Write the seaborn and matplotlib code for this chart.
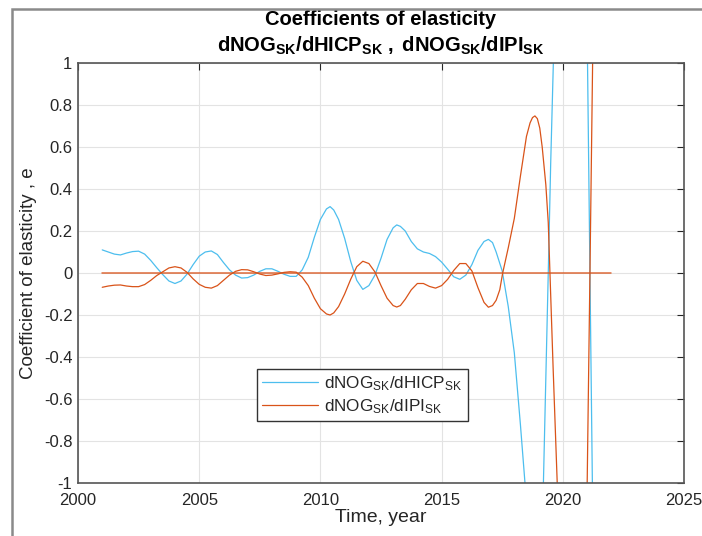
import numpy as np
import pandas as pd
import seaborn as sns
import matplotlib.pyplot as plt
from matplotlib.patches import Rectangle

# dNOG/dHICP (light blue)
years_hicp = [2001.0, 2001.25, 2001.5, 2001.75, 2002.0, 2002.25, 2002.5, 2002.75,
              2003.0, 2003.25, 2003.5, 2003.75, 2004.0, 2004.25, 2004.5, 2004.75,
              2005.0, 2005.25, 2005.5, 2005.75, 2006.0, 2006.25, 2006.5, 2006.75,
              2007.0, 2007.25, 2007.5, 2007.75, 2008.0, 2008.25, 2008.5, 2008.75,
              2009.0, 2009.25, 2009.5, 2009.75, 2010.0, 2010.25, 2010.4, 2010.55, 2010.75,
              2011.0, 2011.25, 2011.5, 2011.75, 2012.0, 2012.25, 2012.5, 2012.75,
              2013.0, 2013.15, 2013.3, 2013.5, 2013.75, 2014.0, 2014.25, 2014.5, 2014.75,
              2015.0, 2015.25, 2015.5, 2015.75, 2016.0, 2016.25, 2016.5, 2016.75,
              2016.93, 2017.1, 2017.25, 2017.5, 2017.75, 2018.0, 2018.25, 2018.44, 2018.6,
              2018.8, 2019.0, 2019.2, 2019.3, 2019.4, 2019.5, 2019.61, 2019.8,
              2020.0, 2020.5, 2020.9, 2021.02, 2021.12, 2021.22, 2021.4]
e_hicp = [0.110, 0.100, 0.090, 0.086, 0.095, 0.102, 0.104, 0.090,
          0.060, 0.025, -0.008, -0.038, -0.050, -0.038, -0.005, 0.040,
          0.080, 0.100, 0.105, 0.088, 0.050, 0.015, -0.010, -0.024,
          -0.022, -0.010, 0.008, 0.020, 0.020, 0.008, -0.006, -0.016,
          -0.016, 0.015, 0.075, 0.170, 0.255, 0.305, 0.316, 0.300, 0.255,
          0.165, 0.055, -0.035, -0.078, -0.060, -0.010, 0.070, 0.160,
          0.215, 0.229, 0.222, 0.200, 0.150, 0.115, 0.100, 0.093, 0.078,
          0.052, 0.018, -0.018, -0.030, -0.010, 0.040, 0.108, 0.150,
          0.160, 0.145, 0.100, 0.010, -0.160, -0.380, -0.720, -1.000, -1.300,
          -1.500, -1.450, -1.000, -0.500, 0.000, 0.520, 1.000, 1.800,
          2.500, 2.800, 1.600, 1.000, 0.000, -1.000, -2.500]

# dNOG/dIPI (orange)
years_ipi = [2001.0, 2001.25, 2001.5, 2001.75, 2002.0, 2002.25, 2002.5, 2002.75,
             2003.0, 2003.25, 2003.5, 2003.75, 2004.0, 2004.25, 2004.5, 2004.75,
             2005.0, 2005.25, 2005.5, 2005.75, 2006.0, 2006.25, 2006.5, 2006.75,
             2007.0, 2007.25, 2007.5, 2007.75, 2008.0, 2008.25, 2008.5, 2008.75,
             2009.0, 2009.25, 2009.5, 2009.75, 2010.0, 2010.25, 2010.4, 2010.55, 2010.75,
             2011.0, 2011.25, 2011.5, 2011.75, 2012.0, 2012.25, 2012.5, 2012.75,
             2013.0, 2013.15, 2013.3, 2013.5, 2013.75, 2014.0, 2014.25, 2014.5, 2014.75,
             2015.0, 2015.25, 2015.5, 2015.75, 2016.0, 2016.25, 2016.5, 2016.75,
             2016.93, 2017.1, 2017.25, 2017.4, 2017.52, 2017.75, 2018.0, 2018.25, 2018.5,
             2018.65, 2018.75, 2018.85, 2018.95, 2019.05, 2019.15, 2019.3, 2019.4, 2019.47, 2019.6,
             2019.77, 2019.9, 2020.3, 2020.8, 2021.0, 2021.12, 2021.23, 2021.4]
e_ipi = [-0.068, -0.062, -0.058, -0.057, -0.062, -0.065, -0.065, -0.055,
         -0.035, -0.012, 0.006, 0.024, 0.030, 0.024, 0.003, -0.028,
         -0.054, -0.068, -0.072, -0.060, -0.035, -0.010, 0.008, 0.016,
         0.015, 0.006, -0.005, -0.012, -0.010, -0.004, 0.003, 0.006,
         0.004, -0.020, -0.060, -0.120, -0.170, -0.195, -0.200, -0.190, -0.160,
         -0.100, -0.030, 0.030, 0.056, 0.045, 0.005, -0.060, -0.120,
         -0.155, -0.162, -0.155, -0.125, -0.080, -0.050, -0.050, -0.064, -0.072,
         -0.060, -0.030, 0.012, 0.045, 0.045, 0.010, -0.070, -0.140,
         -0.163, -0.155, -0.130, -0.080, 0.000, 0.120, 0.260, 0.460, 0.650,
         0.715, 0.740, 0.748, 0.735, 0.690, 0.600, 0.420, 0.240, 0.000, -0.450,
         -1.000, -1.600, -2.500, -1.800, -1.050, 0.000, 1.000, 2.000]

zero_years = [2001, 2022]
zero_vals = [0, 0]

x_ticks = [2000, 2005, 2010, 2015, 2020, 2025]
y_ticks = [-1, -0.8, -0.6, -0.4, -0.2, 0, 0.2, 0.4, 0.6, 0.8, 1]
y_tick_labels = ["-1", "-0.8", "-0.6", "-0.4", "-0.2", "0", "0.2", "0.4", "0.6", "0.8", "1"]

blue = "#4DBEEE"
orange = "#D95319"

sns.set_style("white")
plt.rcParams["font.family"] = ["Liberation Sans", "DejaVu Sans"]
plt.rcParams["mathtext.fontset"] = "custom"
plt.rcParams["mathtext.rm"] = "Liberation Sans"
plt.rcParams["mathtext.it"] = "Liberation Sans:italic"
plt.rcParams["mathtext.bf"] = "Liberation Sans:bold"

fig = plt.figure(figsize=(7.02, 5.36), dpi=100)
ax = fig.add_axes([78 / 702, 1 - 483 / 536, 606 / 702, 420 / 536])

hicp = pd.DataFrame({"year": years_hicp, "e": e_hicp})
ipi = pd.DataFrame({"year": years_ipi, "e": e_ipi})

sns.lineplot(data=hicp, x="year", y="e", color=blue, lw=0.9, sort=False, ax=ax,
             label=r"dNOG$_{\rm SK}$/dHICP$_{\rm SK}$")
sns.lineplot(data=ipi, x="year", y="e", color=orange, lw=0.9, sort=False, ax=ax,
             label=r"dNOG$_{\rm SK}$/dIPI$_{\rm SK}$")
sns.lineplot(x=zero_years, y=zero_vals, color=orange, lw=1.1, alpha=0.85, ax=ax, legend=False)

ax.set_xlim(2000, 2025)
ax.set_ylim(-1, 1)
ax.set_xticks(x_ticks)
ax.set_yticks(y_ticks)
ax.set_yticklabels(y_tick_labels)
ax.grid(True, color="#e3e3e3", lw=0.8)
ax.tick_params(direction="in", top=True, right=True, length=5, width=0.8,
               color="#262626", labelcolor="#262626", labelsize=12, pad=4)
ax.tick_params(axis="x", pad=7)
for s in ax.spines.values():
    s.set_color("#555555")
    s.set_linewidth(1.2)

ax.set_xlabel("Time, year", fontsize=14, color="#262626", labelpad=1)
ax.set_ylabel("Coefficient of elasticity , e", fontsize=13.5, color="#262626", labelpad=5)
ax.set_title("Coefficients of elasticity\n"
             r"$\mathbf{dNOG_{SK}/dHICP_{SK}\ ,\ dNOG_{SK}/dIPI_{SK}}$",
             fontsize=14.5, fontweight="bold", color="black", pad=8, linespacing=1.35)

leg = ax.legend(loc="upper left", bbox_to_anchor=(0.295, 0.271), fontsize=12.3,
                frameon=True, fancybox=False, framealpha=1, edgecolor="#333333",
                borderpad=0.3, handlelength=3.3, handletextpad=0.35, labelspacing=0.25,
                borderaxespad=0)
leg.get_frame().set_linewidth(1.0)

# screenshot border
fig.patches.append(Rectangle((12 / 702, -0.1), 1.2, 1.1 - 9 / 536, transform=fig.transFigure,
                             fill=False, edgecolor="#8a8a8a", lw=1.8))

fig.savefig("out.png", dpi=100)
